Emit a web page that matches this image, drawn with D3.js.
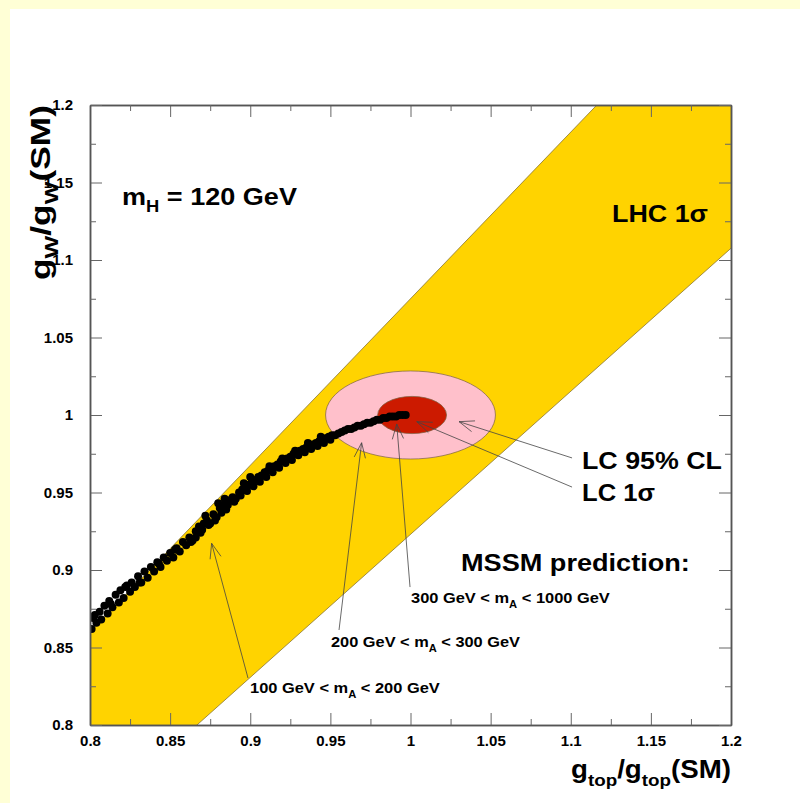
<!DOCTYPE html>
<html>
<head>
  <title>LHC / LC couplings</title>
  <script src="https://d3js.org/d3.v7.min.js"></script>
  <style>
    body { margin: 0; }
    text { font-family: "Liberation Sans", Arial, sans-serif; font-weight: bold; fill: #000; }
    .tick text { font-size: 15px; }
    .tick line { stroke: #666; stroke-width: 1; }
    .domain { stroke: #555; stroke-width: 1.5; }
  </style>
</head>
<body>
  <svg width="800" height="803"></svg>

  <script>
    // axes
    const xDomain = [0.8, 1.2];
    const yDomain = [0.8, 1.2];
    const majorTicks = [0.8, 0.85, 0.9, 0.95, 1.0, 1.05, 1.1, 1.15, 1.2];
    const minorTicks = [0.825, 0.875, 0.925, 0.975, 1.025, 1.075, 1.125, 1.175];

    // LHC 1 sigma band: g_W/g_top ratio between these two values
    const lhcRatio = [0.923, 1.075];

    // LC ellipses (95% CL, 1 sigma)
    const ellipseCenter = [[1.0, 1.0], [1.001, 1.0]];
    const ellipseRadii = [[0.053, 0.0284], [0.0215, 0.012]];

    // MSSM prediction scan points
    const mssmX = [0.801, 0.802, 0.804, 0.806, 0.807, 0.809, 0.811, 0.812, 0.814, 0.816,
      0.818, 0.819, 0.821, 0.823, 0.825, 0.826, 0.828, 0.830, 0.832, 0.834,
      0.836, 0.838, 0.840, 0.842, 0.844, 0.846, 0.848, 0.850, 0.852, 0.854,
      0.856, 0.858, 0.860, 0.862, 0.864, 0.866, 0.868, 0.869, 0.871, 0.873,
      0.875, 0.877, 0.879, 0.881, 0.883, 0.885, 0.887, 0.889, 0.891, 0.893,
      0.895, 0.897, 0.899, 0.901, 0.903, 0.905, 0.907, 0.909, 0.911, 0.913,
      0.915, 0.917, 0.919, 0.921, 0.923, 0.925, 0.927, 0.929, 0.931, 0.933,
      0.935, 0.937, 0.939, 0.941, 0.943, 0.945, 0.947, 0.949, 0.951, 0.953,
      0.955, 0.957, 0.959, 0.961, 0.963, 0.965, 0.967, 0.969, 0.971, 0.973,
      0.975, 0.977, 0.979, 0.981, 0.983, 0.985, 0.987, 0.989, 0.991, 0.993,
      0.995, 0.997,
      0.803, 0.813, 0.822, 0.831, 0.843, 0.853, 0.863, 0.866, 0.870, 0.874,
      0.878, 0.882, 0.886, 0.890, 0.894, 0.898, 0.902, 0.906, 0.910, 0.914,
      0.918, 0.922, 0.926, 0.930, 0.934, 0.938, 0.942, 0.946, 0.950, 0.872,
      0.880, 0.884, 0.896, 0.900, 0.912, 0.920, 0.928, 0.936, 0.944];
    const mssmY = [0.862, 0.869, 0.866, 0.873, 0.868, 0.877, 0.872, 0.880, 0.876, 0.884,
      0.879, 0.887, 0.882, 0.890, 0.886, 0.892, 0.889, 0.896, 0.892, 0.899,
      0.895, 0.902, 0.899, 0.905, 0.902, 0.908, 0.906, 0.911, 0.908, 0.914,
      0.912, 0.918, 0.916, 0.921, 0.919, 0.925, 0.928, 0.924, 0.930, 0.932,
      0.930, 0.936, 0.934, 0.940, 0.942, 0.939, 0.945, 0.947, 0.946, 0.950,
      0.952, 0.953, 0.955, 0.957, 0.958, 0.960, 0.961, 0.963, 0.964, 0.966,
      0.967, 0.968, 0.970, 0.971, 0.972, 0.973, 0.975, 0.976, 0.977, 0.978,
      0.979, 0.980, 0.981, 0.982, 0.983, 0.984, 0.985, 0.986, 0.987, 0.987,
      0.988, 0.989, 0.990, 0.991, 0.991, 0.992, 0.993, 0.993, 0.994, 0.995,
      0.995, 0.996, 0.997, 0.997, 0.998, 0.998, 0.999, 0.999, 0.999, 1.000,
      1.000, 1.000,
      0.871, 0.878, 0.889, 0.892, 0.904, 0.913, 0.918, 0.921, 0.926, 0.929,
      0.932, 0.937, 0.942, 0.944, 0.948, 0.951, 0.954, 0.957, 0.960, 0.963,
      0.966, 0.969, 0.971, 0.974, 0.976, 0.978, 0.980, 0.982, 0.984, 0.935,
      0.943, 0.946, 0.956, 0.960, 0.967, 0.972, 0.977, 0.982, 0.986];

    // annotation arrows: [gtop, gW] of tail and tip
    const arrowTail = [[0.8986, 0.8303], [0.9554, 0.8613], [0.9997, 0.8890], [1.1008, 0.9723], [1.1008, 0.9535]];
    const arrowTip = [[0.8759, 0.9172], [0.9695, 0.9821], [0.9914, 0.9942], [1.0303, 0.9957], [1.0039, 0.9957]];

    const svg = d3.select('svg');
    const pLeft = 90, pRight = 731, pTop = 105, pBottom = 725;

    const x = d3.scaleLinear().domain(xDomain).range([pLeft, pRight]);
    const y = d3.scaleLinear().domain(yDomain).range([pBottom, pTop]);

    // page background with pale frame
    svg.append('rect').attr('width', 800).attr('height', 803).attr('fill', '#ffffd6');
    svg.append('rect').attr('x', 10).attr('y', 9).attr('width', 790).attr('height', 794).attr('fill', '#fff');

    svg.append('clipPath').attr('id', 'plot')
      .append('rect').attr('x', pLeft).attr('y', pTop).attr('width', pRight - pLeft).attr('height', pBottom - pTop);

    const plot = svg.append('g').attr('clip-path', 'url(#plot)');

    // LHC band
    const bandPts = [[xDomain[0], xDomain[0] * lhcRatio[0]], [xDomain[1], xDomain[1] * lhcRatio[0]],
                     [xDomain[1], xDomain[1] * lhcRatio[1]], [xDomain[0], xDomain[0] * lhcRatio[1]]];
    plot.append('path')
      .attr('d', d3.line().x(d => x(d[0])).y(d => y(d[1]))(bandPts) + 'Z')
      .attr('fill', '#ffd300');
    lhcRatio.forEach(r => {
      plot.append('line')
        .attr('x1', x(xDomain[0])).attr('y1', y(xDomain[0] * r))
        .attr('x2', x(xDomain[1])).attr('y2', y(xDomain[1] * r))
        .attr('stroke', '#8a7630').attr('stroke-width', 0.8);
    });

    // LC ellipses
    const ellipseFill = ['#ffc0cb', '#cc1a00'];
    ellipseCenter.forEach((c, i) => {
      plot.append('ellipse')
        .attr('cx', x(c[0])).attr('cy', y(c[1]))
        .attr('rx', x(c[0] + ellipseRadii[i][0]) - x(c[0]))
        .attr('ry', y(c[1]) - y(c[1] + ellipseRadii[i][1]))
        .attr('fill', ellipseFill[i])
        .attr('stroke', '#7a6040').attr('stroke-width', 0.7);
    });

    // MSSM points
    plot.append('g').selectAll('circle')
      .data(mssmX.map((v, i) => [v, mssmY[i]]))
      .enter().append('circle')
      .attr('cx', d => x(d[0]))
      .attr('cy', d => y(d[1]))
      .attr('r', 4)
      .attr('fill', '#000');

    // arrows
    const arrows = svg.append('g').attr('stroke', '#444').attr('stroke-width', 0.8).attr('fill', 'none');
    arrowTail.forEach((t, i) => {
      const x0 = x(t[0]), y0 = y(t[1]), x1 = x(arrowTip[i][0]), y1 = y(arrowTip[i][1]);
      const a = Math.atan2(y0 - y1, x0 - x1), len = 16, spread = 0.36;
      arrows.append('line').attr('x1', x0).attr('y1', y0).attr('x2', x1).attr('y2', y1);
      arrows.append('path').attr('d',
        `M${x1 + len * Math.cos(a - spread)},${y1 + len * Math.sin(a - spread)}L${x1},${y1}` +
        `L${x1 + len * Math.cos(a + spread)},${y1 + len * Math.sin(a + spread)}`);
    });

    // text helper: builds text from parts [string, isSub], stretches it to span x0..x1
    function label(parts, size, x0, x1, yb, rotate) {
      const t = svg.append('text').style('font-size', size + 'px');
      let shifted = false;
      parts.forEach(p => {
        const s = t.append('tspan').text(p[0]);
        if (p[1] && !shifted) { s.attr('dy', size * 0.3).style('font-size', (size * 0.68) + 'px'); shifted = true; }
        else if (p[1]) { s.style('font-size', (size * 0.68) + 'px'); }
        else if (shifted) { s.attr('dy', -size * 0.3); shifted = false; }
      });
      const w = t.node().getComputedTextLength();
      const k = Math.abs(x1 - x0) / w;
      if (rotate) t.attr('transform', `translate(${yb},${x0}) rotate(-90) scale(${k},1)`);
      else t.attr('transform', `translate(${x0},${yb}) scale(${k},1)`);
      return t;
    }

    label([['m'], ['H', 1], [' = 120 GeV']], 24, 122, 297, 205);
    label([['LHC 1σ']], 24, 612, 708, 222);
    label([['LC 95% CL']], 24, 582, 722, 469);
    label([['LC 1σ']], 24, 582, 655, 501);
    label([['MSSM prediction:']], 24, 461, 690, 571);
    label([['300 GeV < m'], ['A', 1], [' < 1000 GeV']], 15, 411, 610, 603);
    label([['200 GeV < m'], ['A', 1], [' < 300 GeV']], 15, 331, 520, 647);
    label([['100 GeV < m'], ['A', 1], [' < 200 GeV']], 15, 250, 440, 693);
    label([['g'], ['top', 1], ['/g'], ['top', 1], ['(SM)']], 25, 571, 731, 778);
    label([['g'], ['W', 1], ['/g'], ['W', 1], ['(SM)']], 27, 280, 105, 50, true);

    // axes: ticks inside on all four sides
    const fmt = d => String(+d.toFixed(3));
    function axis(gen, scale, vals, size, labels, transform) {
      const g = svg.append('g').attr('transform', transform)
        .call(gen(scale).tickValues(vals).tickSize(-size).tickSizeOuter(0)
          .tickPadding(labels ? (gen === d3.axisLeft ? 17 : 10) : 0)
          .tickFormat(labels ? fmt : ''));
      g.selectAll('.tick text').style('font-size', '15px');
      return g;
    }
    axis(d3.axisBottom, x, majorTicks, 12, true, `translate(0,${pBottom})`);
    axis(d3.axisBottom, x, minorTicks, 6, false, `translate(0,${pBottom})`);
    axis(d3.axisTop, x, majorTicks, 12, false, `translate(0,${pTop})`);
    axis(d3.axisTop, x, minorTicks, 6, false, `translate(0,${pTop})`);
    axis(d3.axisLeft, y, majorTicks, 12, true, `translate(${pLeft},0)`);
    axis(d3.axisLeft, y, minorTicks, 6, false, `translate(${pLeft},0)`);
    axis(d3.axisRight, y, majorTicks, 12, false, `translate(${pRight},0)`);
    axis(d3.axisRight, y, minorTicks, 6, false, `translate(${pRight},0)`);
    svg.selectAll('.tick text').attr('fill', '#000');
  </script>
</body>
</html>
